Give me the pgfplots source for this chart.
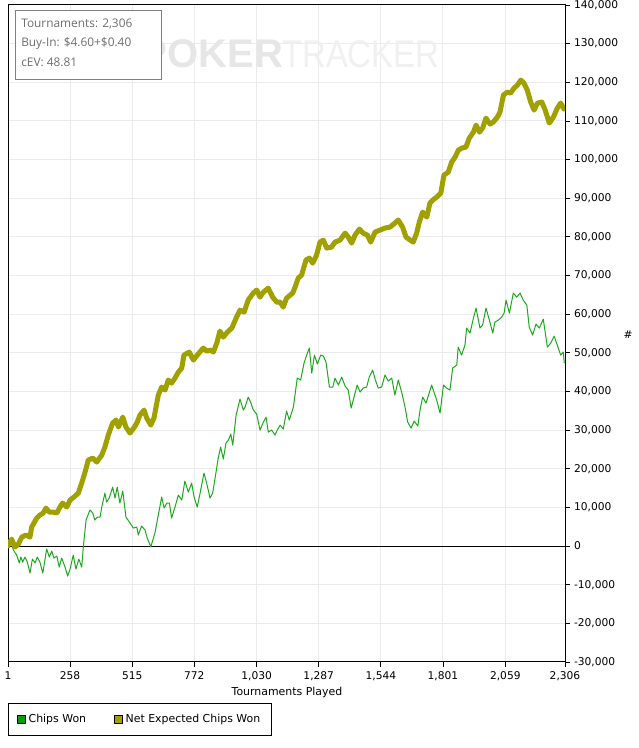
\documentclass[border=0pt]{standalone}
\usepackage{fontspec}
\setmainfont{DejaVu Sans}
\newfontfamily\boxfont{Open Sans}
\newfontfamily\wmfont{Liberation Sans}
\usepackage{pgfplots}
\pgfplotsset{compat=1.18}
\definecolor{cwon}{RGB}{30,168,30}
\definecolor{cwonsq}{RGB}{0,160,0}
\definecolor{nev}{RGB}{160,160,0}
\definecolor{gridc}{RGB}{235,235,235}
\definecolor{boxtext}{RGB}{110,110,110}
\definecolor{boxline}{RGB}{128,128,128}
\definecolor{wmA}{RGB}{230,230,230}
\definecolor{wmB}{RGB}{240,240,240}
\begin{document}
\begin{tikzpicture}
\useasboundingbox (0,0) rectangle (478.5pt,561pt);
\fill[white] (0,0) rectangle (478.5pt,561pt);
\begin{axis}[
  at={(6pt,64.5pt)}, anchor=south west,
  scale only axis, width=417.75pt, height=492.75pt,
  xmin=1, xmax=2306, ymin=-30000, ymax=140000,
  xtick={1,258,515,772,1030,1287,1544,1801,2059,2306},
  xticklabels={1,258,515,772,{1,030},{1,287},{1,544},{1,801},{2,059},{2,306}},
  ytick={-30000,-20000,...,140000},
  yticklabels={{-30,000},{-20,000},{-10,000},0,{10,000},{20,000},{30,000},{40,000},{50,000},{60,000},{70,000},{80,000},{90,000},{100,000},{110,000},{120,000},{130,000},{140,000}},
  scaled y ticks=false,
  yticklabel pos=right,
  xtick pos=bottom, ytick pos=right,
  tick align=outside,
  major tick length=3.75pt,
  tick style={black, line width=0.6pt},
  grid=major,
  grid style={draw=gridc, line width=0.75pt},
  axis line style={black, line width=0.75pt},
  ticklabel style={font=\fontsize{8}{9}\selectfont, text=black},
  xticklabel style={yshift=0pt},
  yticklabel style={xshift=-0.5pt},
  legend columns=2,
  legend cell align=left,
  legend style={at={(axis description cs:0,-0.0624)}, anchor=north west,
    draw=black, line width=0.75pt, font=\fontsize{8.2}{9}\selectfont,
    inner xsep=6.5pt, inner ysep=6pt,
    /tikz/every even column/.append style={column sep=19pt}},
]
\addplot[black, line width=0.75pt, forget plot] coordinates {(1,0) (2306,0)};
\addplot[cwon, line width=0.75pt, line join=round,
  legend image code/.code={\draw[black, line width=0.6pt, fill=cwonsq] (-1.5pt,-3pt) rectangle (4.5pt,3pt);}]
coordinates {
(1,0) (2,0) (12,1733) (23,-1035) (37,-2328) (48,-4398) (54,-2846) (62,-4139) (71,-2846) (81,-4139)
(92,-6985) (102,-3363) (113,-4398) (122,-2846) (133,-4139) (145,-6985) (161,-776) (172,-2846) (182,-1294) (191,-3104)
(203,-2587) (213,-5433) (223,-3104) (237,-5433) (248,-7761) (258,-5950) (271,-2328) (282,-5950) (294,-3363) (306,-5433)
(313,0) (324,6726) (340,9313) (352,8537) (360,6726) (371,7502) (382,7502) (389,10089) (402,13711) (409,11383)
(420,12418) (434,15263) (444,12418) (453,15263) (464,11124) (476,14228) (489,7502) (506,5950) (520,4657) (534,4915)
(540,2846) (554,5174) (568,4139) (577,2070) (592,-181) (609,3363) (623,8020) (637,12676) (647,9831) (658,11124)
(669,11124) (678,7244) (692,10089) (706,13194) (720,11900) (733,16816) (747,13970) (761,16298) (771,12676) (784,10089)
(796,13711) (812,18885) (823,16298) (837,12418) (848,13711) (858,17592) (871,22766) (881,25612) (892,22507) (903,26646)
(913,27422) (923,28974) (931,26129) (945,33890) (961,38029) (975,35184) (982,35960) (995,38547) (1005,37253) (1016,35184)
(1030,34149) (1044,30010) (1058,32079) (1069,33373) (1078,29492) (1092,30010) (1106,28716) (1115,30010) (1127,31303) (1140,30269)
(1154,34925) (1165,32597) (1182,35960) (1198,43463) (1212,42946) (1226,47344) (1237,49414) (1248,51225) (1258,44757) (1269,49414)
(1281,47085) (1295,49414) (1306,49155) (1317,47603) (1331,41135) (1345,41135) (1354,43463) (1368,41653) (1382,43722) (1396,41394)
(1409,40359) (1421,35701) (1433,38547) (1446,41653) (1458,39840) (1471,40876) (1485,41135) (1496,43722) (1510,45533) (1520,43205)
(1533,40876) (1547,41135) (1561,44240) (1575,42687) (1589,43463) (1602,39065) (1616,42946) (1630,39840) (1644,35960) (1655,32079)
(1669,30527) (1682,32338) (1697,31044) (1706,35184) (1717,38547) (1731,36995) (1754,41653) (1775,37771) (1789,34408) (1803,41653)
(1816,40876) (1830,40359) (1841,46051) (1858,46827) (1864,51483) (1878,49414) (1892,52001) (1899,56400) (1913,55106) (1927,58986)
(1938,61573) (1954,56400) (1965,57176) (1979,61573) (1993,58469) (2007,55106) (2016,57952) (2030,58469) (2044,59245) (2054,60280)
(2062,63643) (2076,60280) (2092,65454) (2106,64420) (2120,65454) (2133,63643) (2148,62349) (2158,56658) (2172,54588) (2186,57434)
(2200,56400) (2216,58728) (2233,51483) (2247,52518) (2261,54329) (2274,52001) (2288,49414) (2299,50190) (2303,47344)
};
\addlegendentry{Chips Won}
\addplot[nev, line width=3.75pt, line join=round, line cap=round,
  legend image code/.code={\draw[black, line width=0.6pt, fill=nev] (-1.5pt,-3pt) rectangle (4.5pt,3pt);}]
coordinates {
(1,0) (2,259) (16,1811) (30,-259) (44,517) (58,2328) (75,2846) (92,2328) (99,4915) (120,7244) (133,8020)
(147,8537) (158,9831) (172,8796) (188,8796) (203,8537) (216,10089) (227,11124) (244,10089) (258,11900) (274,12676)
(292,13711) (306,16298) (320,19144) (333,22248) (352,22766) (368,21731) (389,23542) (402,25612) (416,28716) (434,31821)
(448,32597) (458,30786) (476,33373) (489,30786) (506,29233) (524,30786) (536,32079) (547,33890) (564,35184) (575,33114)
(592,31303) (605,33114) (623,39065) (637,41135) (651,40359) (664,42946) (678,42169) (692,43463) (706,45015) (720,46051)
(729,49414) (751,50190) (768,48120) (784,49414) (809,51225) (823,50449) (840,50708) (851,50190) (865,52518) (878,55623)
(892,54070) (909,55364) (927,56400) (947,59245) (961,61056) (978,60539) (995,63643) (1016,65454) (1030,66230) (1044,64420)
(1058,65713) (1078,66748) (1096,64420) (1113,63126) (1127,63126) (1140,61833) (1154,64161) (1179,65454) (1189,67007) (1202,69335)
(1216,70112) (1234,73993) (1248,74510) (1262,73217) (1278,75286) (1292,78649) (1306,79167) (1320,77097) (1340,77356) (1354,78649)
(1375,79167) (1396,80978) (1409,79943) (1423,78391) (1437,80460) (1455,82013) (1471,80978) (1488,80460) (1502,78649) (1520,81236)
(1540,81754) (1561,82271) (1582,82530) (1602,83564) (1616,84341) (1634,82530) (1648,79943) (1665,79167) (1678,78649) (1692,80978)
(1703,83823) (1717,86410) (1734,85117) (1747,88739) (1759,89515) (1775,90292) (1792,91327) (1805,95984) (1823,96760) (1837,99347)
(1851,100641) (1865,102452) (1879,102969) (1896,103228) (1910,105556) (1927,107109) (1938,108920) (1952,107109) (1965,108143) (1979,110730)
(1996,109178) (2009,109695) (2026,110989) (2037,112283) (2051,116681) (2067,117457) (2081,117198) (2095,118492) (2109,119268) (2123,120562)
(2136,119785) (2150,117974) (2164,114870) (2178,112800) (2192,114611) (2210,114870) (2224,112800) (2241,109436) (2258,110989) (2274,113317)
(2288,114611) (2302,113058)
};
\addlegendentry{Net Expected Chips Won}
\end{axis}
% watermark
\node[anchor=west, inner sep=0pt, text=wmA, font=\wmfont\bfseries\fontsize{30}{31}\selectfont] at (105.5pt,520.5pt) {POKER};
\node[anchor=west, inner sep=0pt, text=wmB, xscale=0.85, font=\wmfont\fontsize{29}{30}\selectfont] at (211.5pt,520.5pt) {TRACKER};
% info box
\draw[boxline, fill=white, line width=0.75pt] (11.8pt,553pt) rectangle (121.3pt,501.5pt);
\node[anchor=west, inner sep=0pt, text=boxtext, font=\boxfont\fontsize{8.9}{10}\selectfont] at (15.75pt,543pt) {Tournaments: 2,306};
\node[anchor=west, inner sep=0pt, text=boxtext, font=\boxfont\fontsize{8.9}{10}\selectfont] at (15.75pt,528.5pt) {Buy-In: \$4.60+\$0.40};
\node[anchor=west, inner sep=0pt, text=boxtext, font=\boxfont\fontsize{8.9}{10}\selectfont] at (15.75pt,514pt) {cEV: 48.81};
% axis titles
\node[font=\fontsize{8.2}{9}\selectfont] at (215.25pt,41.5pt) {Tournaments Played};
\node[font=\fontsize{8}{9}\selectfont] at (471pt,309.75pt) {\#};
\end{tikzpicture}
\end{document}
